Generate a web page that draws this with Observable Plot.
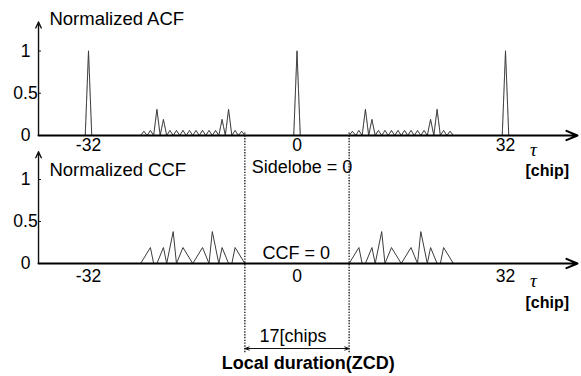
<!DOCTYPE html>
<html><head><meta charset="utf-8">
<script src="https://cdn.jsdelivr.net/npm/d3@7"></script>
<script src="https://cdn.jsdelivr.net/npm/@observablehq/plot@0.6"></script>
<style>
body{margin:0;background:#fff;}
#wrap{position:relative;width:581px;height:376px;overflow:hidden;background:#fff}
#wrap svg{position:absolute;left:0;top:0}
</style></head><body><div id="wrap"></div>
<script>
// ---- data ----
const tauTicks = [-32, 0, 32];
const tauTickLabels = ["-32", "0", "32"];
const yTicks = [0, 0.5, 1];
const yTickLabels = ["0", "0.5", "1"];

const acfPeakTau = [-32, 0, 32];
const acfPeakValue = [1, 1, 1];

const acfSideTauLeft = [-24,-23.5,-23,-22.5,-22,-21.5,-21,-20.5,-20,-19.5,-19,-18.5,-18,-17.5,-17,-16.5,-16,-15.5,-15,-14.5,-14,-13.5,-13,-12.5,-12,-11.5,-11,-10.5,-10,-9.5,-9,-8.5,-8];
const acfSideLeft    = [0,0.05,0,0.06,0,0.31,0,0.19,0,0.06,0,0.06,0,0.06,0,0.06,0,0.06,0,0.06,0,0.06,0,0.06,0,0.19,0,0.31,0,0.06,0,0.05,0];
const acfSideTauRight = [8,8.5,9,9.5,10,10.5,11,11.5,12,12.5,13,13.5,14,14.5,15,15.5,16,16.5,17,17.5,18,18.5,19,19.5,20,20.5,21,21.5,22,22.5,23,23.5,24];
const acfSideRight    = [0,0.05,0,0.06,0,0.31,0,0.19,0,0.06,0,0.06,0,0.06,0,0.06,0,0.06,0,0.06,0,0.06,0,0.06,0,0.19,0,0.31,0,0.06,0,0.05,0];

const ccfTauLeft = [-24,-22.5,-22,-21.5,-20.5,-20,-19,-18.5,-17.5,-16,-14.5,-13.5,-13,-12,-11.5,-10.5,-10,-9.5,-8];
const ccfLeft    = [0,0.19,0,0,0.19,0,0.38,0,0.19,0,0.19,0,0.38,0,0.19,0,0,0.19,0];
const ccfTauRight = [8,9.5,10,10.5,11.5,12,13,13.5,14.5,16,17.5,18.5,19,20,20.5,21.5,22,22.5,24];
const ccfRight    = [0,0.19,0,0,0.19,0,0.38,0,0.19,0,0.19,0,0.38,0,0.19,0,0,0.19,0];

const zcdEdges = [-8, 8];
const zcdLabel = "17[chips";
const zcdTitle = "Local duration(ZCD)";

// ---- layout constants ----
const FONT = "'Liberation Sans', Arial, sans-serif";
const xAxisTau = -39.67, xTipTau = 43.05, yLabelTau = -41.67;

// ---- build rows ----
const acfRows = [];
acfPeakTau.forEach((t, i) => {
  acfRows.push({tau: t - 0.5, v: 0, g: "p" + i}, {tau: t, v: acfPeakValue[i], g: "p" + i}, {tau: t + 0.5, v: 0, g: "p" + i});
});
acfSideTauLeft.forEach((t, i) => acfRows.push({tau: t, v: acfSideLeft[i], g: "L"}));
acfSideTauRight.forEach((t, i) => acfRows.push({tau: t, v: acfSideRight[i], g: "R"}));

const ccfRows = [];
ccfTauLeft.forEach((t, i) => ccfRows.push({tau: t, v: ccfLeft[i], g: "L"}));
ccfTauRight.forEach((t, i) => ccfRows.push({tau: t, v: ccfRight[i], g: "R"}));

function panel(o) {
  return Plot.plot({
    width: 581, height: 376, margin: 0,
    x: {domain: [-32, 32], range: [88, 505], axis: null},
    y: {domain: [0, 1], range: o.yRange, axis: null},
    style: {background: "transparent", overflow: "visible", fontFamily: FONT},
    marks: [
      Plot.line(o.rows, {x: "tau", y: "v", z: "g", stroke: "#3c3c3c", strokeWidth: 1, strokeDasharray: o.dash}),
      Plot.arrow([{x1: xAxisTau, y1: 0, x2: xAxisTau, y2: o.yTop}], {x1: "x1", y1: "y1", x2: "x2", y2: "y2", stroke: "#111", strokeWidth: 1.4, headLength: 7, headAngle: 50}),
      Plot.ruleY(yTicks, {y: d => d, x1: () => xAxisTau, x2: () => xAxisTau + 0.45, stroke: "#111", strokeWidth: 1}),
      Plot.arrow([{x1: xAxisTau, y1: 0, x2: xTipTau, y2: 0}], {x1: "x1", y1: "y1", x2: "x2", y2: "y2", stroke: "#000", strokeWidth: 2, headLength: 9, headAngle: 45}),
      Plot.text(yTicks, {x: () => yLabelTau, y: d => d, text: (d, i) => yTickLabels[i], fontSize: 17.5, fill: "#000", textAnchor: "middle"}),
      Plot.text(tauTicks, {x: d => d, y: () => o.tickY, text: (d, i) => tauTickLabels[i], fontSize: 17.5, fill: "#000", lineAnchor: "bottom"}),
      Plot.text([o.title], {x: () => -38.0, y: () => o.titleY, text: d => d, fontSize: 18.5, textAnchor: "start", lineAnchor: "bottom", fill: "#000"}),
      Plot.text(["τ"], {x: () => 36.3, y: () => o.tauY, text: d => d, fontSize: 19, fontStyle: "italic", fontFamily: "'Liberation Serif', serif", lineAnchor: "bottom", fill: "#000"}),
      Plot.text(["[chip]"], {x: () => 35.07, y: () => o.chipY, text: d => d, fontSize: 16, fontWeight: "bold", textAnchor: "start", lineAnchor: "bottom", fill: "#000"}),
      ...o.extra
    ]
  });
}

const acfChart = panel({
  rows: acfRows, yRange: [135, 50.5], yTop: 1.343, dash: "1.3,0.5",
  tickY: -0.189, title: "Normalized ACF", titleY: 1.302, tauY: -0.237, chipY: -0.485,
  extra: [
    Plot.text(["Sidelobe = 0"], {x: () => 8.5, y: () => -0.438, text: d => d, fontSize: 18, textAnchor: "end", lineAnchor: "bottom", fill: "#000"}),
    Plot.ruleX(zcdEdges, {x: d => d, y1: () => 0.03, y2: () => -2.57, stroke: "#111", strokeWidth: 1.3, strokeDasharray: "1.4,1.4"}),
    Plot.arrow(zcdEdges, {x1: () => 0, y1: () => -2.521, x2: d => d, y2: () => -2.521, stroke: "#111", strokeWidth: 1, headLength: 7, headAngle: 40}),
    Plot.text([zcdLabel], {x: () => -0.61, y: () => -2.438, text: d => d, fontSize: 18, lineAnchor: "bottom", fill: "#000"}),
    Plot.text([zcdTitle], {x: () => 1.72, y: () => -2.769, text: d => d, fontSize: 18, fontWeight: "bold", lineAnchor: "bottom", fill: "#000"})
  ]
});

const ccfChart = panel({
  rows: ccfRows, yRange: [263, 179], yTop: 1.33, dash: null,
  tickY: -0.226, title: "Normalized CCF", titleY: 1.036, tauY: -0.274, chipY: -0.524,
  extra: [
    Plot.text(["CCF = 0"], {x: () => -5.3, y: () => 0.048, text: d => d, fontSize: 18, textAnchor: "start", lineAnchor: "bottom", fill: "#000"})
  ]
});

const wrap = document.getElementById("wrap");
wrap.appendChild(ccfChart);
wrap.appendChild(acfChart);
</script></body></html>
